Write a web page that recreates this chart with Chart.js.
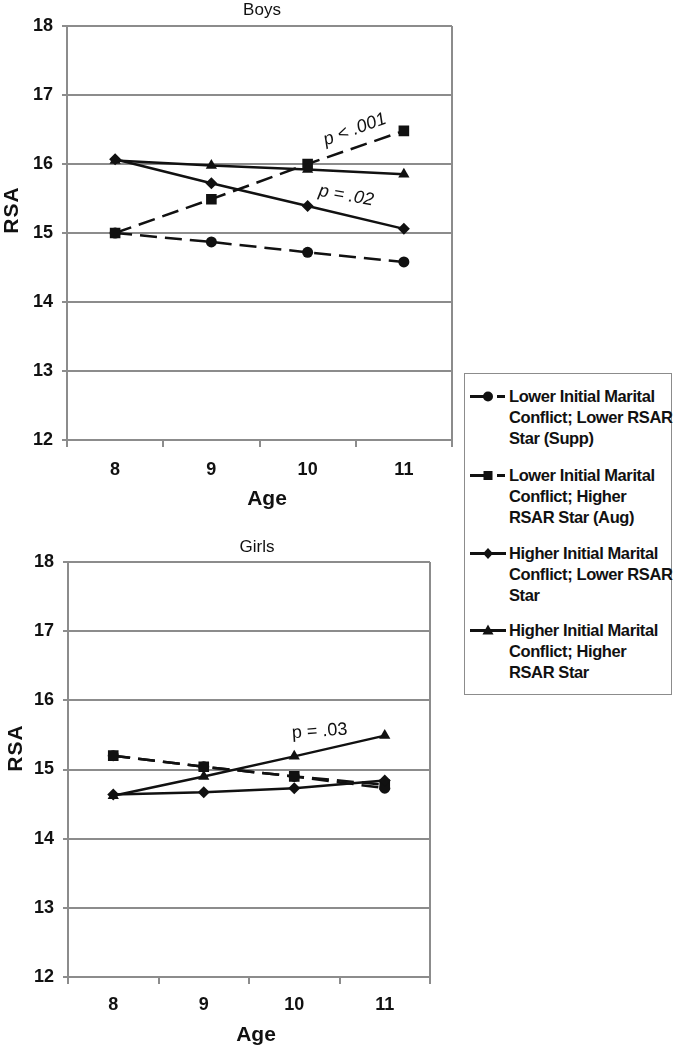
<!DOCTYPE html>
<html>
<head>
<meta charset="utf-8">
<script src="https://cdn.jsdelivr.net/npm/chart.js@4.4.0/dist/chart.umd.min.js"></script>
<style>
html,body{margin:0;padding:0;background:#fff;width:674px;height:1050px;overflow:hidden;}
#c1{position:absolute;left:0;top:0;}
#c2{position:absolute;left:0;top:530px;}
#legend{position:absolute;left:464px;top:373px;width:208px;height:322px;border:1.5px solid #8c8c8c;box-sizing:border-box;
  font:bold 16.5px "Liberation Sans",Arial,sans-serif;letter-spacing:-0.4px;color:#111;}
.item{position:absolute;left:0;width:205px;height:63px;}
.item svg{position:absolute;left:3px;top:0;}
.item .txt{position:absolute;left:44px;top:0;line-height:21px;white-space:nowrap;}
</style>
</head>
<body>
<canvas id="c1" width="460" height="520"></canvas>
<canvas id="c2" width="460" height="520"></canvas>
<div id="legend"></div>
<script>
// ---------- data ----------
const ages = ['8', '9', '10', '11'];
const yTicks = [12, 13, 14, 15, 16, 17, 18];
const seriesNames = [
  ['Lower Initial Marital', 'Conflict; Lower RSAR', 'Star (Supp)'],
  ['Lower Initial Marital', 'Conflict; Higher', 'RSAR Star (Aug)'],
  ['Higher Initial Marital', 'Conflict; Lower RSAR', 'Star'],
  ['Higher Initial Marital', 'Conflict; Higher', 'RSAR Star']
];
const boysSupp     = [15.00, 14.87, 14.72, 14.58];
const boysAug      = [15.00, 15.49, 16.00, 16.48];
const boysHighLow  = [16.07, 15.72, 15.39, 15.06];
const boysHighHigh = [16.05, 15.98, 15.92, 15.85];
const girlsSupp     = [15.20, 15.04, 14.90, 14.73];
const girlsAug      = [15.20, 15.04, 14.90, 14.78];
const girlsHighLow  = [14.64, 14.67, 14.73, 14.84];
const girlsHighHigh = [14.62, 14.90, 15.19, 15.49];
const boysNotes  = [{text: 'p < .001', x: 2.49, y: 16.50, angle: -20, italic: true},
                    {text: 'p = .02',  x: 2.40, y: 15.54, angle: 10,  italic: true}];
const girlsNotes = [{text: 'p = .03',  x: 2.28, y: 15.55, angle: -4,  italic: false}];

// ---------- styles ----------
const FONT = '"Liberation Sans", Arial, sans-serif';
const GRID = '#8c8c8c';
const INK = '#111';
const styles = [
  {shape: 'circle',   r: 5.5, dash: [17, 8], order: 3},
  {shape: 'rect',     r: 7.5, dash: [17, 8], order: 2},
  {shape: 'rectRot',  r: 6,   dash: [],      order: 0},
  {shape: 'triangle', r: 6.5, dash: [],      order: 1}
];

function makeDatasets(arrs) {
  return arrs.map((d, i) => ({
    label: seriesNames[i].join(' '),
    data: d,
    borderColor: INK,
    backgroundColor: INK,
    borderWidth: 2.5,
    borderDash: styles[i].dash,
    pointStyle: styles[i].shape,
    pointRadius: styles[i].r,
    pointBorderWidth: 0,
    pointBackgroundColor: INK,
    order: styles[i].order,
    tension: 0,
    fill: false
  }));
}

const decor = {
  id: 'decor',
  afterDraw(chart, args, o) {
    const ctx = chart.ctx, a = chart.chartArea, xs = chart.scales.x, ys = chart.scales.y;
    ctx.save();
    // right frame
    ctx.strokeStyle = GRID; ctx.lineWidth = 2;
    ctx.beginPath(); ctx.moveTo(a.right, a.top); ctx.lineTo(a.right, a.bottom); ctx.stroke();
    ctx.fillStyle = INK;
    // panel title
    ctx.font = '17px ' + FONT; ctx.textAlign = 'center'; ctx.textBaseline = 'alphabetic';
    ctx.fillText(o.title, o.titleX, o.titleY);
    // x title
    ctx.font = 'bold 21px ' + FONT;
    ctx.fillText('Age', o.ageX, o.ageY);
    // y title
    ctx.save();
    ctx.translate(o.rsaX, o.rsaY); ctx.rotate(-Math.PI / 2);
    ctx.font = 'bold 21px ' + FONT; ctx.letterSpacing = '1px';
    ctx.fillText('RSA', 0, 0);
    ctx.restore();
    // annotations
    o.notes.forEach(n => {
      ctx.save();
      ctx.translate(xs.getPixelForValue(n.x), ys.getPixelForValue(n.y));
      ctx.rotate(n.angle * Math.PI / 180);
      ctx.font = (n.italic ? 'italic ' : '') + '18px ' + FONT;
      ctx.textAlign = 'center'; ctx.textBaseline = 'middle';
      ctx.fillText(n.text, 0, 0);
      ctx.restore();
    });
    ctx.restore();
  }
};

function makeChart(id, arrs, cfg) {
  return new Chart(document.getElementById(id), {
    type: 'line',
    data: {labels: ages, datasets: makeDatasets(arrs)},
    options: {
      responsive: false,
      animation: false,
      devicePixelRatio: 1,
      layout: {padding: {top: cfg.padTop, right: cfg.padRight, left: 0, bottom: 0}},
      plugins: {
        legend: {display: false},
        tooltip: {enabled: false},
        decor: cfg.decor
      },
      scales: {
        x: {
          type: 'category',
          offset: true,
          grid: {offset: true, drawOnChartArea: false, drawTicks: true, tickLength: 7, color: GRID, lineWidth: 2},
          border: {display: true, color: GRID, width: 2},
          ticks: {color: INK, font: {family: FONT, size: 18, weight: 'bold'}, padding: cfg.xPad, maxRotation: 0},
          afterFit: s => { s.height = cfg.xHeight; }
        },
        y: {
          min: 12, max: 18,
          grid: {color: GRID, lineWidth: 2, drawTicks: true, tickLength: 5},
          border: {display: true, color: GRID, width: 2},
          ticks: {color: INK, font: {family: FONT, size: 18, weight: 'bold'}, padding: 9},
          afterBuildTicks: s => { s.ticks = yTicks.map(v => ({value: v})); },
          afterFit: s => { s.width = cfg.yWidth; }
        }
      }
    },
    plugins: [decor]
  });
}

makeChart('c1', [boysSupp, boysAug, boysHighLow, boysHighHigh], {
  padTop: 26, padRight: 8, xHeight: 80, yWidth: 67, xPad: 12,
  decor: {title: 'Boys', titleX: 262, titleY: 15, ageX: 267, ageY: 505, rsaX: 18, rsaY: 210, notes: boysNotes}
});
makeChart('c2', [girlsSupp, girlsAug, girlsHighLow, girlsHighHigh], {
  padTop: 32, padRight: 30, xHeight: 73, yWidth: 68, xPad: 10,
  decor: {title: 'Girls', titleX: 257, titleY: 22, ageX: 256, ageY: 511, rsaX: 22, rsaY: 218, notes: girlsNotes}
});

// ---------- legend ----------
const legend = document.getElementById('legend');
const tops = [12, 91, 169, 246];
seriesNames.forEach((lines, i) => {
  const st = styles[i];
  const y = 10.5, mx = 20;
  let line;
  if (st.dash.length) {
    line = `<line x1="2" y1="${y}" x2="${mx + 2}" y2="${y}" stroke="${INK}" stroke-width="3"/>` +
           `<line x1="29" y1="${y}" x2="37" y2="${y}" stroke="${INK}" stroke-width="3"/>`;
  } else {
    line = `<line x1="2" y1="${y}" x2="38" y2="${y}" stroke="${INK}" stroke-width="3"/>`;
  }
  let mk;
  if (st.shape === 'circle') mk = `<circle cx="${mx}" cy="${y}" r="5" fill="${INK}"/>`;
  else if (st.shape === 'rect') mk = `<rect x="${mx - 4.5}" y="${y - 4.5}" width="9" height="9" fill="${INK}"/>`;
  else if (st.shape === 'rectRot') mk = `<polygon points="${mx},${y - 5.5} ${mx + 5},${y} ${mx},${y + 5.5} ${mx - 5},${y}" fill="${INK}"/>`;
  else mk = `<polygon points="${mx},${y - 6} ${mx + 5.5},${y + 4} ${mx - 5.5},${y + 4}" fill="${INK}"/>`;
  const div = document.createElement('div');
  div.className = 'item';
  div.style.top = tops[i] + 'px';
  div.innerHTML = `<svg width="40" height="21">${line}${mk}</svg><div class="txt">${lines.join('<br>')}</div>`;
  legend.appendChild(div);
});
</script>
</body>
</html>
